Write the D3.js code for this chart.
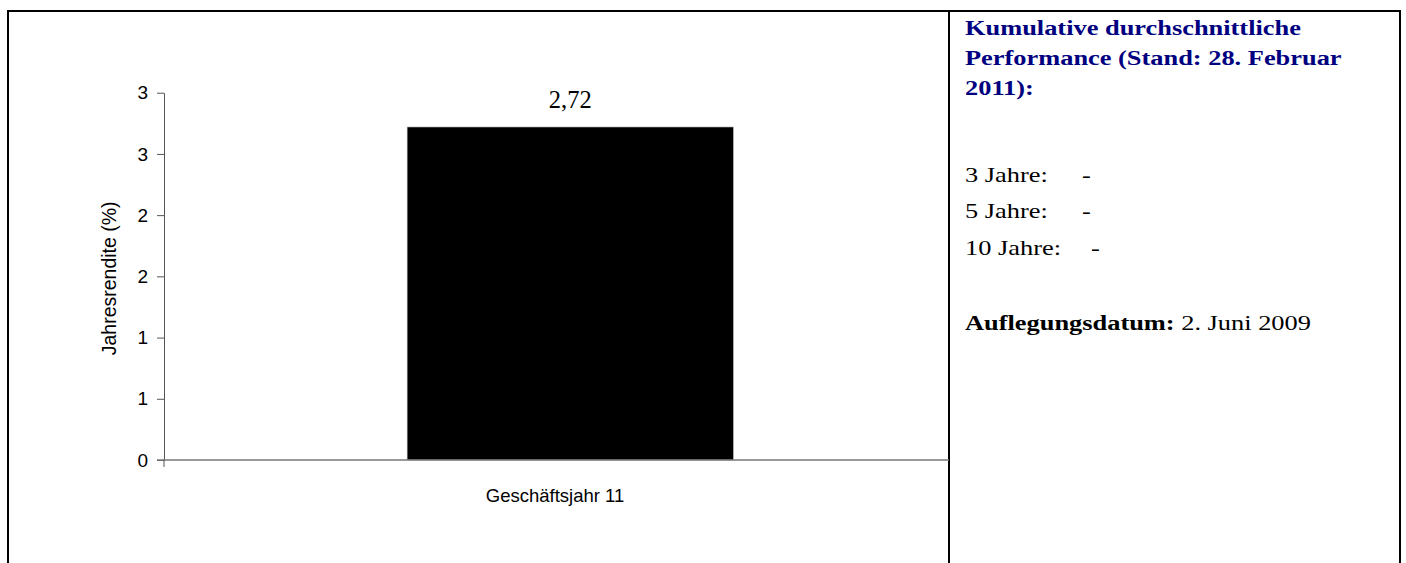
<!DOCTYPE html>
<html>
<head>
<meta charset="utf-8">
<script src="https://cdn.jsdelivr.net/npm/d3@7"></script>
<style>
  body { margin: 0; background: #fff; }
  svg { display: block; }
</style>
</head>
<body>
<div id="chart"></div>
<script>
var width = 1406,
    height = 563;

// daten aus dem bild
var categories = ["Geschäftsjahr 11"];
var values = [2.72];
var yTicks = [0, 0.5, 1, 1.5, 2, 2.5, 3];
var headingLines = ["Kumulative durchschnittliche", "Performance (Stand: 28. Februar", "2011):"];
var periodLabels = ["3 Jahre:", "5 Jahre:", "10 Jahre:"];
var periodValues = ["-", "-", "-"];
var launchLabel = "Auflegungsdatum:";
var launchDate = " 2. Juni 2009";

var plot = {left: 164, right: 949, top: 92.7, bottom: 460};
var serif = "'Liberation Serif', 'Times New Roman', serif",
    sans = "'Liberation Sans', Arial, sans-serif";

var svg = d3.select("#chart").append("svg")
    .attr("width", width)
    .attr("height", height);

// rahmen der tabelle
svg.append("path")
    .attr("d", "M8,570V11H1400V570M949,11V570")
    .attr("fill", "none")
    .attr("stroke", "#000")
    .attr("stroke-width", 2);

var y = d3.scaleLinear()
    .domain([0, 3])
    .range([plot.bottom, plot.top]);

var x = d3.scaleBand()
    .domain(categories)
    .range([plot.left, plot.right])
    .paddingInner(0)
    .paddingOuter(0.703)
    .align(0.53);

var g = svg.append("g");

// balken
g.selectAll("rect.bar")
    .data(values)
    .enter().append("rect")
    .attr("class", "bar")
    .attr("x", (d, i) => x(categories[i]))
    .attr("width", x.bandwidth())
    .attr("y", d => y(d))
    .attr("height", d => y(0) - y(d))
    .attr("fill", "#000")
    .attr("stroke", "#bbb")
    .attr("stroke-width", 0.6);

// wertbeschriftung
g.selectAll("text.val")
    .data(values)
    .enter().append("text")
    .attr("x", (d, i) => x(categories[i]) + x.bandwidth() / 2)
    .attr("y", d => y(d) - 19)
    .attr("text-anchor", "middle")
    .style("font-family", serif)
    .style("font-size", "24.5px")
    .text(d => d.toFixed(2).replace(".", ","));

// y achse, beschriftungen wie im original auf ganze zahlen gerundet
var yAxis = d3.axisLeft(y)
    .tickValues(yTicks)
    .tickSize(7)
    .tickSizeOuter(0)
    .tickPadding(9)
    .tickFormat(d => String(Math.round(d)));

var ya = svg.append("g")
    .attr("transform", "translate(" + plot.left + ",0)")
    .call(yAxis);
ya.select(".domain").attr("stroke", "#555").attr("stroke-width", 1);
ya.selectAll(".tick line").attr("stroke", "#555");
ya.selectAll("text")
    .style("font-family", sans)
    .style("font-size", "19px")
    .attr("fill", "#000");

// x achse
var xa = svg.append("g")
    .attr("transform", "translate(0," + plot.bottom + ")");
xa.append("line")
    .attr("x1", plot.left - 7).attr("x2", plot.right)
    .attr("stroke", "#777").attr("stroke-width", 1.6);
xa.append("line")
    .attr("x1", plot.left).attr("x2", plot.left)
    .attr("y1", 0).attr("y2", 7)
    .attr("stroke", "#555");
xa.selectAll("text.cat")
    .data(categories)
    .enter().append("text")
    .attr("x", (plot.left + 946) / 2)
    .attr("y", 42)
    .attr("text-anchor", "middle")
    .style("font-family", sans)
    .style("font-size", "18.5px")
    .text(d => d);

// y titel
svg.append("text")
    .attr("transform", "translate(116," + ((plot.top + plot.bottom) / 2 + 2) + ") rotate(-90)")
    .attr("text-anchor", "middle")
    .style("font-family", sans)
    .style("font-size", "19.5px")
    .text("Jahresrendite (%)");

// rechte spalte (schrift im original etwas breit gezogen)
var sx = 1.2;
var info = svg.append("g")
    .attr("transform", "translate(965,0) scale(" + sx + ",1)")
    .style("font-family", serif)
    .style("font-size", "22px");

info.selectAll("text.head")
    .data(headingLines)
    .enter().append("text")
    .attr("x", 0)
    .attr("y", (d, i) => 35 + i * 30)
    .attr("fill", "#000080")
    .style("font-weight", "bold")
    .text(d => d);

info.selectAll("text.per")
    .data(periodLabels)
    .enter().append("text")
    .attr("x", 0)
    .attr("y", (d, i) => 182 + i * 36.5)
    .text(d => d);

info.selectAll("text.perv")
    .data(periodValues)
    .enter().append("text")
    .attr("x", (d, i) => (i === 2 ? 1091 : 1082) - 965)
    .attr("x", (d, i) => ((i === 2 ? 1091 : 1082) - 965) / sx)
    .attr("y", (d, i) => 182 + i * 36.5)
    .text(d => d);

var launch = info.append("text")
    .attr("x", 0)
    .attr("y", 330);
launch.append("tspan").style("font-weight", "bold").text(launchLabel);
launch.append("tspan").text(launchDate);
</script>
</body>
</html>
